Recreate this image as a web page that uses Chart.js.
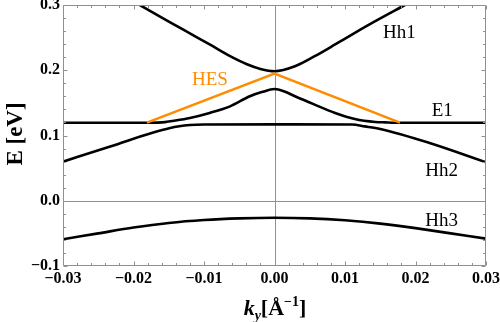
<!DOCTYPE html>
<html><head><meta charset="utf-8">
<script src="https://cdn.jsdelivr.net/npm/chart.js@4/dist/chart.umd.min.js"></script>
<style>html,body{margin:0;padding:0;background:#fff}#c{display:block}</style>
</head><body>
<canvas id="c" width="500" height="322"></canvas>
<script>
// ---- data ----
const hh1K = [-0.0191, -0.0148, -0.0120, -0.0092, -0.0063, -0.0040, -0.0020, 0, 0.0029, 0.0057, 0.0086, 0.0114, 0.0143, 0.0185];
const hh1E = [0.300, 0.2735, 0.2565, 0.2395, 0.2215, 0.2095, 0.2020, 0.1985, 0.2061, 0.2215, 0.2395, 0.2574, 0.2753, 0.300];

const e1K = [-0.030, -0.018, -0.0155, -0.0148, -0.0120, -0.0092, -0.0063, -0.0035, -0.0018, 0, 0.0015, 0.0029, 0.0057, 0.0086, 0.0114, 0.0143, 0.0157, 0.018, 0.030];
const e1E = [0.1195, 0.1195, 0.1205, 0.1217, 0.1269, 0.1346, 0.1447, 0.1601, 0.1665, 0.1712, 0.1670, 0.1601, 0.1473, 0.1346, 0.1253, 0.1207, 0.1201, 0.1195, 0.1195];

const hh2K = [-0.030, -0.0233, -0.0148, -0.0120, -0.0100, 0, 0.0110, 0.0128, 0.0150, 0.0220, 0.030];
const hh2E = [0.0598, 0.0833, 0.1115, 0.1160, 0.1168, 0.1170, 0.1168, 0.1140, 0.1100, 0.0885, 0.0590];

const hesK = [-0.0181, 0, 0.0178];
const hesE = [0.1197, 0.1948, 0.1197];

const hh3K = [-0.030, -0.025, -0.020, -0.015, -0.010, -0.005, 0, 0.005, 0.010, 0.015, 0.020, 0.025, 0.030];
const hh3E = [-0.059, -0.050, -0.041, -0.034, -0.0295, -0.027, -0.026, -0.027, -0.030, -0.035, -0.042, -0.050, -0.058];

const xTickValues = [-0.03, -0.02, -0.01, 0, 0.01, 0.02, 0.03];
const xTickLabels = ['\u22120.03', '\u22120.02', '\u22120.01', '0.00', '0.01', '0.02', '0.03'];
const yTickValues = [-0.1, 0, 0.1, 0.2, 0.3];
const yTickLabels = ['\u22120.1', '0.0', '0.1', '0.2', '0.3'];

const curveNames = ['Hh1', 'HES', 'E1', 'Hh2', 'Hh3'];

// ---- styling / placement (not data) ----
const labelAnchors = { Hh1: [0.0154, 0.2498], HES: [-0.0117, 0.178], E1: [0.0223, 0.1293], Hh2: [0.0214, 0.0372], Hh3: [0.0214, -0.0381] };
const ORANGE = '#ff8c00';
const FRAME = '#909090';
const SERIF = "'Liberation Serif', 'Times New Roman', serif";

function pts(k, e) { return k.map((v, i) => ({ x: v, y: e[i] })); }
function ds(k, e, color, smooth) {
  return { data: pts(k, e), borderColor: color, borderWidth: 2.6, pointRadius: 0, showLine: true, fill: false,
           tension: 0, cubicInterpolationMode: smooth ? 'monotone' : 'default' };
}

const framePlugin = {
  id: 'frame',
  beforeDatasetsDraw(chart) {
    const { ctx, chartArea: a, scales: { x, y } } = chart;
    ctx.save();
    ctx.strokeStyle = FRAME; ctx.lineWidth = 1;
    const x0 = Math.round(x.getPixelForValue(0)) + 0.5, y0 = Math.round(y.getPixelForValue(0)) + 0.5;
    ctx.beginPath(); ctx.moveTo(x0, a.top); ctx.lineTo(x0, a.bottom); ctx.moveTo(a.left, y0); ctx.lineTo(a.right, y0); ctx.stroke();
    ctx.restore();
  },
  afterDraw(chart) {
    const { ctx, chartArea: a, scales: { x, y } } = chart;
    ctx.save();
    // frame with inward ticks on all four sides
    ctx.strokeStyle = FRAME; ctx.lineWidth = 1;
    const L0 = Math.round(a.left) + 0.5, R0 = Math.round(a.right) - 0.5, T0 = Math.round(a.top) + 0.5, B0 = Math.round(a.bottom) - 0.5;
    ctx.beginPath();
    ctx.rect(L0, T0, R0 - L0, B0 - T0);
    for (let i = 0; i <= 30; i++) {
      const v = -0.03 + i * 0.002, px = Math.round(x.getPixelForValue(v)) + 0.5, L = (i % 5 === 0) ? 4 : 2.5;
      ctx.moveTo(px, B0); ctx.lineTo(px, B0 - L);
      ctx.moveTo(px, T0); ctx.lineTo(px, T0 + L);
    }
    for (let i = 0; i <= 20; i++) {
      const v = -0.1 + i * 0.02, py = Math.round(y.getPixelForValue(v)) + 0.5, L = (i % 5 === 0) ? 4 : 2.5;
      ctx.moveTo(L0, py); ctx.lineTo(L0 + L, py);
      ctx.moveTo(R0, py); ctx.lineTo(R0 - L, py);
    }
    ctx.stroke();
    // curve labels
    ctx.textBaseline = 'alphabetic'; ctx.textAlign = 'left';
    ctx.font = '19px ' + SERIF;
    curveNames.forEach(n => {
      const p = labelAnchors[n];
      ctx.fillStyle = n === 'HES' ? ORANGE : '#000';
      ctx.fillText(n, x.getPixelForValue(p[0]), y.getPixelForValue(p[1]));
    });
    // axis titles
    ctx.fillStyle = '#000';
    ctx.save();
    ctx.translate(22, 134); ctx.rotate(-Math.PI / 2);
    ctx.font = 'bold 23px ' + SERIF; ctx.textAlign = 'center';
    ctx.fillText('E [eV]', 0, 0);
    ctx.restore();
    const big = 'bold 22px ' + SERIF, bigI = 'italic bold 22px ' + SERIF, small = 'bold 14px ' + SERIF, smallI = 'italic bold 14px ' + SERIF;
    const parts = [ ['k', bigI, 0], ['y', smallI, 5], ['[\u00C5', big, 0], ['\u22121', small, -9], [']', big, 0] ];
    let w = 0; parts.forEach(p => { ctx.font = p[1]; w += ctx.measureText(p[0]).width; });
    let cx = 275 - w / 2; const base = 315;
    parts.forEach(p => { ctx.font = p[1]; ctx.fillText(p[0], cx, base + p[2]); cx += ctx.measureText(p[0]).width; });
    ctx.restore();
  }
};

const tickFont = { family: SERIF, size: 16, weight: 'bold' };

new Chart(document.getElementById('c'), {
  type: 'scatter',
  data: { datasets: [
    ds(hesK, hesE, ORANGE, false),
    ds(hh1K, hh1E, '#000', true),
    ds(e1K, e1E, '#000', true),
    ds(hh2K, hh2E, '#000', true),
    ds(hh3K, hh3E, '#000', true)
  ] },
  options: {
    responsive: false, animation: false, devicePixelRatio: 1,
    layout: { padding: { top: 5, right: 14, left: 0, bottom: 0 } },
    plugins: { legend: { display: false }, tooltip: { enabled: false } },
    scales: {
      x: {
        type: 'linear', min: -0.03, max: 0.03,
        afterBuildTicks: s => { s.ticks = xTickValues.map(v => ({ value: v })); },
        afterFit: s => { s.height = 56; s.paddingLeft = 0; s.paddingRight = 0; },
        grid: { display: false, drawTicks: false }, border: { display: false },
        ticks: { callback: (v, i) => xTickLabels[i], font: tickFont, color: '#000', padding: 3, maxRotation: 0, autoSkip: false }
      },
      y: {
        type: 'linear', min: -0.1, max: 0.3,
        afterBuildTicks: s => { s.ticks = yTickValues.map(v => ({ value: v })); },
        afterFit: s => { s.width = 63; s.paddingTop = 0; s.paddingBottom = 0; },
        grid: { display: false, drawTicks: false }, border: { display: false },
        ticks: { callback: (v, i) => yTickLabels[i], font: tickFont, color: '#000', padding: 3, autoSkip: false }
      }
    }
  },
  plugins: [framePlugin]
});
</script>
</body></html>
